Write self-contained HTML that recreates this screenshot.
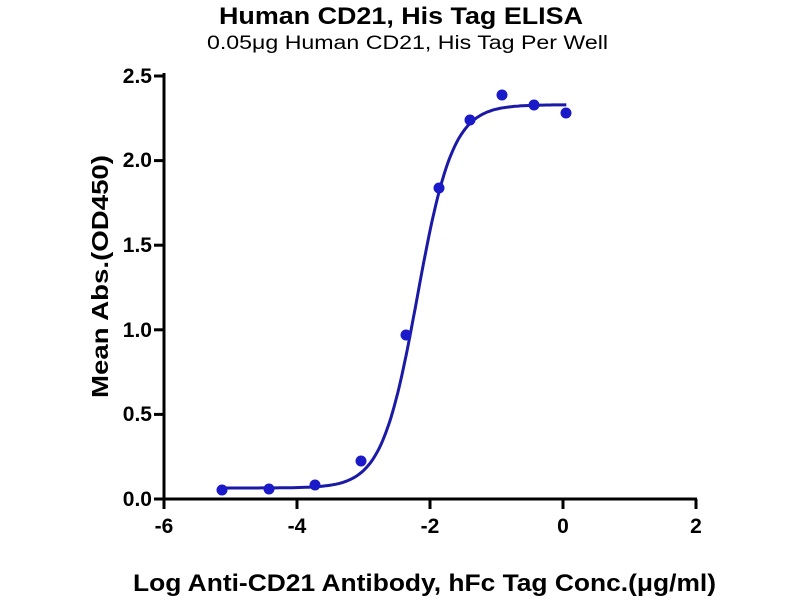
<!DOCTYPE html>
<html><head><style>
body{margin:0;background:#fff;}
svg text{font-family:"Liberation Sans",sans-serif;}
</style></head><body>
<svg width="800" height="600" xmlns="http://www.w3.org/2000/svg">
<text x="219" y="24" font-size="24" font-weight="bold" textLength="364" lengthAdjust="spacingAndGlyphs">Human CD21, His Tag ELISA</text>
<text x="207" y="49" font-size="19" textLength="401" lengthAdjust="spacingAndGlyphs">0.05μg Human CD21, His Tag Per Well</text>
<g stroke="#000" stroke-width="3" fill="none">
<line x1="164" y1="73" x2="164" y2="500"/>
<line x1="162" y1="499" x2="697" y2="499"/>
<line x1="154" y1="76" x2="164" y2="76"/>
<line x1="154" y1="160.6" x2="164" y2="160.6"/>
<line x1="154" y1="245.2" x2="164" y2="245.2"/>
<line x1="154" y1="329.8" x2="164" y2="329.8"/>
<line x1="154" y1="414.4" x2="164" y2="414.4"/>
<line x1="154" y1="499" x2="164" y2="499"/>
<line x1="164" y1="499" x2="164" y2="509"/>
<line x1="297" y1="499" x2="297" y2="509"/>
<line x1="430" y1="499" x2="430" y2="509"/>
<line x1="563" y1="499" x2="563" y2="509"/>
<line x1="696" y1="499" x2="696" y2="509"/>
</g>
<g font-size="21" font-weight="bold" text-anchor="end">
<text x="152" y="83">2.5</text><text x="152" y="167">2.0</text><text x="152" y="252">1.5</text>
<text x="152" y="337">1.0</text><text x="152" y="421">0.5</text><text x="152" y="506">0.0</text>
</g>
<g font-size="21" font-weight="bold" text-anchor="middle">
<text x="164" y="533">-6</text><text x="297" y="533">-4</text><text x="430" y="533">-2</text>
<text x="563" y="533">0</text><text x="696" y="533">2</text>
</g>
<text x="133" y="591" font-size="24" font-weight="bold" textLength="583" lengthAdjust="spacingAndGlyphs">Log Anti-CD21 Antibody, hFc Tag Conc.(μg/ml)</text>
<text transform="translate(108,398) rotate(-90)" font-size="23" font-weight="bold" textLength="243" lengthAdjust="spacingAndGlyphs">Mean Abs.(OD450)</text>
<path id="c" fill="none" stroke="#1a1aa6" stroke-width="3"/>
<g fill="#1a1ac8">
<circle cx="222" cy="490" r="5.5"/><circle cx="269" cy="489" r="5.5"/><circle cx="315" cy="485" r="5.5"/>
<circle cx="361" cy="461" r="5.5"/><circle cx="406" cy="335" r="5.5"/><circle cx="439" cy="188" r="5.5"/>
<circle cx="470" cy="120" r="5.5"/><circle cx="502" cy="95" r="5.5"/><circle cx="534" cy="105" r="5.5"/>
<circle cx="566" cy="113" r="5.5"/>
</g>
<script>
var d="";for(var i=0;i<=200;i++){var x=-5.12+i*(5.17/200);var y=0.065+(2.33-0.065)/(1+Math.pow(10,1.63*(-2.19-x)));
d+=(i?"L":"M")+(164+(x+6)*66.5).toFixed(1)+","+(499-y*169.2).toFixed(1);}
document.getElementById("c").setAttribute("d",d);
</script>
</svg>
</body></html>
